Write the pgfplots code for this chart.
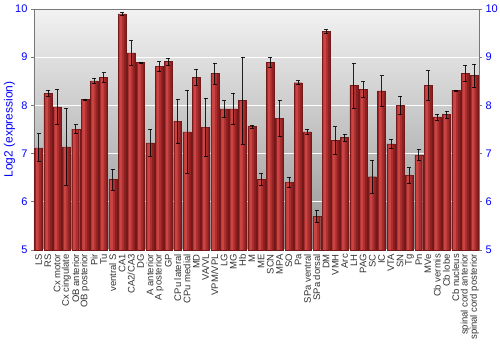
\documentclass[border=0pt]{standalone}
\usepackage{pgfplots}
\pgfplotsset{compat=1.18}
\usepackage{pgfplotstable}
\usepackage{fontspec}
\setmainfont{Liberation Sans}
\definecolor{barD}{RGB}{140,32,32}
\definecolor{barM}{RGB}{172,46,46}
\definecolor{barL}{RGB}{202,68,68}
\definecolor{barEdge}{RGB}{115,25,25}
\definecolor{bgTop}{RGB}{242,242,242}
\definecolor{bgBot}{RGB}{148,148,148}
\definecolor{frameGray}{RGB}{120,120,120}
\pgfplotstableread{
x y err
0 7.12 0.29
1 8.25 0.06
2 7.97 0.37
3 7.14 0.80
4 7.51 0.09
5 8.12 0.01
6 8.51 0.05
7 8.58 0.10
8 6.46 0.22
9 9.90 0.04
10 9.09 0.25
11 8.89 0.01
12 7.22 0.28
13 8.81 0.10
14 8.91 0.07
15 7.67 0.46
16 7.45 0.86
17 8.58 0.17
18 7.55 0.60
19 8.66 0.22
20 7.93 0.17
21 7.93 0.33
22 8.10 0.90
23 7.56 0.03
24 6.46 0.12
25 8.89 0.11
26 7.73 0.38
27 6.41 0.10
28 8.47 0.04
29 7.45 0.05
30 5.70 0.12
31 9.53 0.04
32 7.27 0.29
33 7.33 0.07
34 8.41 0.47
35 8.33 0.16
36 6.52 0.34
37 8.30 0.32
38 7.20 0.10
39 8.00 0.19
40 6.55 0.16
41 6.97 0.12
42 8.41 0.31
43 7.76 0.06
44 7.81 0.07
45 8.31 0.01
46 8.66 0.17
47 8.62 0.24
}\datatable
\begin{document}
\begin{tikzpicture}
\begin{axis}[
  at={(0pt,0pt)}, anchor=south west,
  scale only axis, width=445pt, height=241pt,
  xmin=-0.5, xmax=47.5, ymin=5, ymax=10,
  axis background/.style={top color=bgTop, bottom color=bgBot},
  axis line style={frameGray, line width=0.8pt},
  axis x line*=bottom, axis y line*=left,
  xtick=data,
  xticklabels={LS,RS,Cx motor,Cx cingulate,OB anterior,OB posterior,Pir,Tu,ventral S,CA1,CA2/CA3,DG,A anterior,A posterior,GP,CPu lateral,CPu medial,MD,VA/VL,VPM/VPL,LG,MG,Hb,M,ME,SCN,MPA,SO,Pa,SPa ventral,SPa dorsal,DM,VMH,Arc,LH,PAG,SC,IC,VTA,SN,Tg,Pn,MVe,Cb vermis,Cb lobe,Cb nucleus,spinal cord anterior,spinal cord posterior},
  xticklabel style={rotate=90, anchor=east, inner sep=1pt, font=\fontsize{9.5}{10}\selectfont, text=black!80},
  x axis line style={draw=none},
  xtick style={draw=none},
  ytick={5,6,7,8,9,10},
  yticklabel style={text=blue, font=\fontsize{11}{12}\selectfont},
  /pgf/number format/assume math mode=true,
  tick align=outside, major tick length=3pt,
  ytick style={frameGray, line width=0.6pt},
  ymajorgrids, grid style={white, line width=1pt},
  ylabel={Log2 (expression)},
  every axis y label/.style={at={(rel axis cs:0,0.5)}, xshift=-24.5pt, rotate=90, anchor=center,
     text=blue, font=\fontsize{12}{13}\selectfont, inner sep=0pt},
  clip=false,
]
\addplot[ybar, bar width=0.86, bar shift=0, draw=barEdge, line width=0.4pt, fill=barD]
  table[x=x, y=y] {\datatable};
\addplot[ybar, bar width=0.55, bar shift=-0.055, draw=none, fill=barM]
  table[x=x, y expr=\thisrow{y}-0.012] {\datatable};
\addplot[ybar, bar width=0.28, bar shift=-0.14, draw=none, fill=barL]
  table[x=x, y expr=\thisrow{y}-0.012] {\datatable};
\addplot[draw=none, mark=none,
  error bars/.cd, y dir=both, y explicit,
  error bar style={draw=black, line width=0.7pt, opacity=0.85},
  error mark options={rotate=90, mark size=2pt, draw=black, line width=0.7pt}]
  table[x=x, y=y, y error=err] {\datatable};
\draw[frameGray, line width=0.8pt] (axis cs:-0.5,10) -- (axis cs:47.5,10);
\draw[frameGray, line width=0.8pt] (axis cs:47.5,5) -- (axis cs:47.5,10);
\end{axis}
\begin{axis}[
  at={(0pt,0pt)}, anchor=south west,
  scale only axis, width=445pt, height=241pt,
  xmin=-0.5, xmax=47.5, ymin=5, ymax=10,
  axis y line*=right, axis x line=none,
  axis line style={frameGray, line width=0.8pt},
  ytick={5,6,7,8,9,10},
  yticklabel style={text=blue, font=\fontsize{11}{12}\selectfont},
  /pgf/number format/assume math mode=true,
  tick align=outside, major tick length=3pt,
  ytick style={frameGray, line width=0.6pt},
]
\addplot[draw=none] coordinates {(0,5)};
\end{axis}
\pgfresetboundingbox
\path (-34pt,-100pt) rectangle (466pt,250pt);
\end{tikzpicture}
\end{document}
